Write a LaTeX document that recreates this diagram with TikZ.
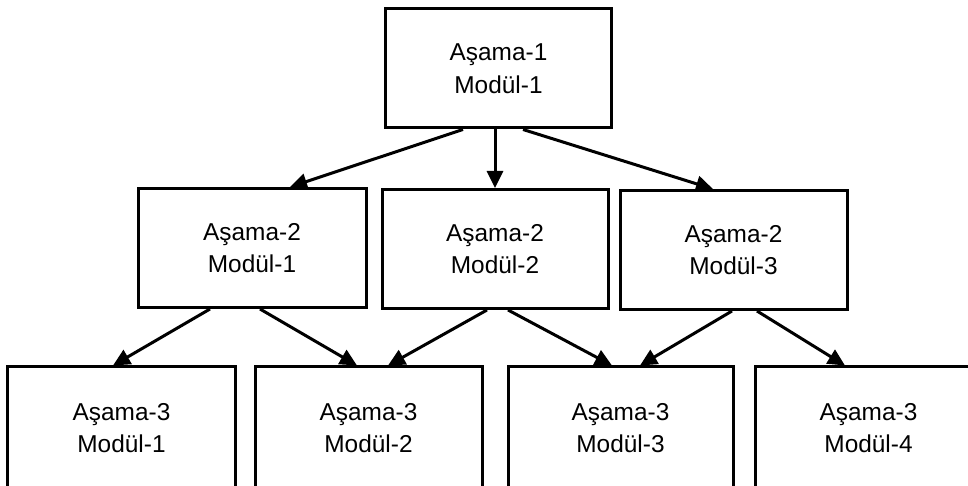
\documentclass[tikz,border=0pt]{standalone}
\usepackage{fontspec}
\setmainfont{Liberation Sans}
\usepackage{tikz}
\usetikzlibrary{arrows.meta}

\begin{document}
\begin{tikzpicture}[x=1bp,y=-1bp]
		\tikzset{box/.style = {shape=rectangle, draw, line width=3bp, inner sep=0pt, align=center, text depth=0pt,
		  minimum width=226bp, minimum height=119bp, font=\fontsize{24.5}{32.5}\selectfont}}
		\tikzset{edge/.style = {line width=3bp, -{Triangle[length=17bp,width=16bp]}}}

		\useasboundingbox (0,0) rectangle (968,486);

		\node[box] (S1_1) at (498.5,68.5) {Aşama-1\\Modül-1};

		\node[box, minimum width=228bp] (S2_1) at (252,248) {Aşama-2\\Modül-1};
		\node[box] (S2_2) at (495,249) {Aşama-2\\Modül-2};
		\node[box, minimum width=227bp] (S2_3) at (733.5,250) {Aşama-2\\Modül-3};

		\node[box, minimum width=227bp, minimum height=122bp] (S3_1) at (121.5,428) {Aşama-3\\Modül-1};
		\node[box, minimum width=227bp, minimum height=122bp] (S3_2) at (368.5,428) {Aşama-3\\Modül-2};
		\node[box, minimum width=225bp, minimum height=122bp] (S3_3) at (620.5,428) {Aşama-3\\Modül-3};
		\node[box, minimum width=227bp, minimum height=122bp] (S3_4) at (868.5,428) {Aşama-3\\Modül-4};

		\draw[edge] ([xshift=-35.5bp]S1_1.south) to ([xshift=38bp]S2_1.north);
		\draw[edge] (S2_2.north |- S1_1.south) to (S2_2.north);
		\draw[edge] ([xshift=24.5bp]S1_1.south) to ([xshift=-20.5bp]S2_3.north);

		\draw[edge] ([xshift=-42bp]S2_1.south) to ([xshift=-8.5bp]S3_1.north);
		\draw[edge] ([xshift=8bp]S2_1.south) to ([xshift=-11.5bp]S3_2.north);
		\draw[edge] ([xshift=-8bp]S2_2.south) to ([xshift=19.5bp]S3_2.north);
		\draw[edge] ([xshift=13bp]S2_2.south) to ([xshift=-8.5bp]S3_3.north);
		\draw[edge] ([xshift=-1.5bp]S2_3.south) to ([xshift=19.5bp]S3_3.north);
		\draw[edge] ([xshift=23.5bp]S2_3.south) to ([xshift=-23.5bp]S3_4.north);
	\end{tikzpicture}
\end{document}
